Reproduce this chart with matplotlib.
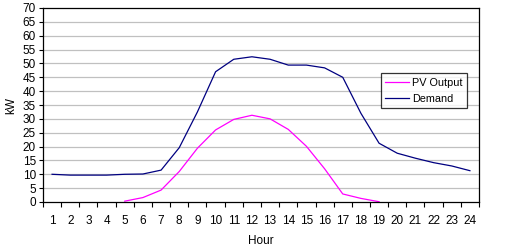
import numpy as np
import matplotlib
matplotlib.use("Agg")
import matplotlib.pyplot as plt
import matplotlib.ticker as mticker

plt.rcParams["font.family"] = ["Liberation Sans", "DejaVu Sans"]
plt.rcParams["font.size"] = 8.5

# hourly values (kW)
hours = list(range(1, 25))
demand = [10.0, 9.7, 9.7, 9.7, 10.0, 10.1, 11.5, 19.6, 32.5, 47.0, 51.5, 52.4,
          51.5, 49.4, 49.4, 48.4, 45.0, 32.0, 21.2, 17.6, 15.8, 14.2, 13.0, 11.3]
pv_hours = list(range(5, 20))
pv_output = [0.3, 1.6, 4.3, 11.0, 19.4, 26.0, 29.8, 31.3, 30.0, 26.2, 20.1,
             12.0, 2.9, 1.3, 0.1]

fig = plt.figure(figsize=(5.06, 2.5), dpi=100)
ax = fig.add_axes([43 / 506, 1 - 202 / 250, 436 / 506, 194 / 250])

ax.plot(pv_hours, pv_output, color="#ff00ff", lw=0.9, label="PV Output")
ax.plot(hours, demand, color="#000080", lw=0.9, label="Demand")

ax.set_xlim(0.5, 24.5)
ax.set_ylim(0, 70)

# category axis: labels at centres, tick marks between categories
ax.xaxis.set_major_locator(mticker.FixedLocator(hours))
ax.xaxis.set_minor_locator(mticker.FixedLocator(np.arange(0.5, 25, 1)))
ax.tick_params(axis="x", which="major", length=0, pad=9)
ax.tick_params(axis="x", which="minor", length=3.5, width=0.8, direction="out")

ax.yaxis.set_major_locator(mticker.MultipleLocator(5))
ax.tick_params(axis="y", length=3, width=0.8, pad=2)

for v in range(5, 70, 5):
    ax.axhline(v, color="#c0c0c0", lw=0.9, zorder=0)

for s in ax.spines.values():
    s.set_linewidth(0.9)
    s.set_color("black")

ax.set_xlabel("Hour", labelpad=6)
ax.set_ylabel("kW", labelpad=4)

leg = ax.legend(loc="center left", bbox_to_anchor=(0.775, 0.573),
                frameon=True, fancybox=False, handlelength=2.2,
                borderpad=0.4, labelspacing=0.6, handletextpad=0.25,
                borderaxespad=0, fontsize=7.8)
leg.get_frame().set_edgecolor("black")
leg.get_frame().set_linewidth(0.9)

fig.savefig("out.png", dpi=100)
